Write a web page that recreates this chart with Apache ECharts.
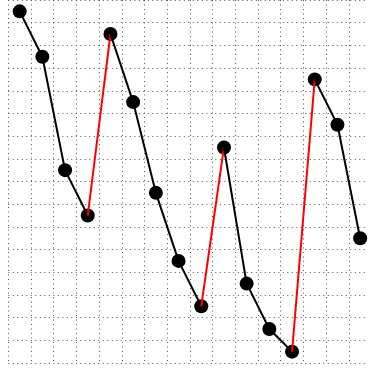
<!DOCTYPE html>
<html>
<head>
<meta charset="utf-8">
<script src="https://cdn.jsdelivr.net/npm/echarts@6/dist/echarts.min.js"></script>
<style>
    html, body { margin: 0; padding: 0; background: #fff; overflow: hidden; }
    /* a bit wider than the window: the last column runs past the right edge */
    #chart { width: 372px; height: 369px; }
</style>
</head>
<body>
<div id="chart"></div>
<script>
    var categories = ['1','2','3','4','5','6','7','8','9','10','11','12','13','14','15','16'];
    var values = [15.5, 13.5, 8.5, 6.5, 14.5, 11.5, 7.5, 4.5, 2.5, 9.5, 3.5, 1.5, 0.5, 12.5, 10.5, 5.5];
    var upColor = '#ff0000';
    var downColor = '#000000';

    var gridLine = {
        show: true,
        interval: 0,
        lineStyle: { color: '#555', type: [1, 3.5], width: 1 }
    };

    var series = [];
    // markers underneath
    series.push({
        type: 'scatter',
        data: values.map(function (v, i) { return [i, v]; }),
        symbol: 'circle',
        symbolSize: 14,
        itemStyle: { color: '#000', opacity: 1 },
        z: 1
    });
    // one segment per pair, red when going up
    for (var i = 0; i < values.length - 1; i++) {
        var up = values[i + 1] > values[i];
        series.push({
            type: 'line',
            data: [[i, values[i]], [i + 1, values[i + 1]]],
            symbol: 'none',
            lineStyle: { color: up ? upColor : downColor, width: 2 },
            z: 2
        });
    }

    var myChart = echarts.init(document.getElementById('chart'));
    myChart.setOption({
        animation: false,
        grid: { left: 8.3, top: 0, width: 363.2, height: 363 },
        xAxis: {
            type: 'category',
            data: categories,
            boundaryGap: true,
            axisLine: { show: false },
            axisTick: { show: false },
            axisLabel: { show: false },
            splitLine: gridLine
        },
        yAxis: {
            type: 'value',
            min: 0,
            max: 16,
            interval: 1,
            axisLine: { show: false },
            axisTick: { show: false },
            axisLabel: { show: false },
            splitLine: gridLine
        },
        series: series
    });
</script>
</body>
</html>
